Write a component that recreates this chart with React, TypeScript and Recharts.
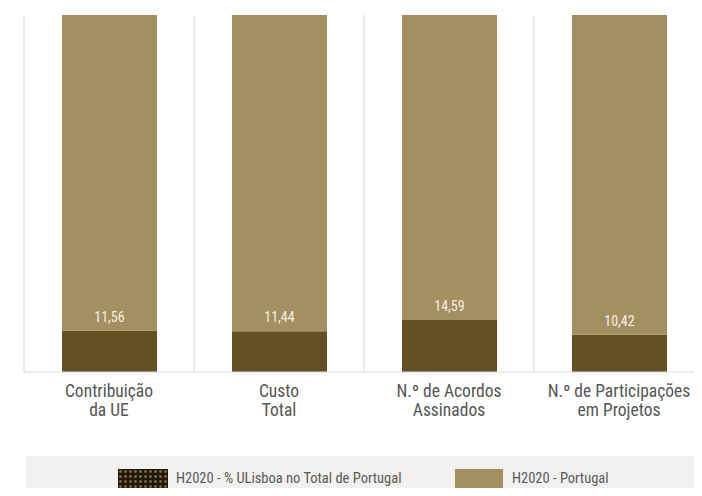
import { BarChart, Bar, XAxis, YAxis, CartesianGrid, Legend, LabelList } from 'recharts';

const categories = ['Contribuição|da UE', 'Custo|Total', 'N.º de Acordos|Assinados', 'N.º de Participações|em Projetos'];
const ulisboa = [11.56, 11.44, 14.59, 10.42];
const portugal = [88.44, 88.56, 85.41, 89.58];

const data = categories.map((c, i) => ({ name: c, ul: ulisboa[i], pt: portugal[i] }));

const FONT = '"Liberation Sans Narrow", "Arial Narrow", "Roboto Condensed", sans-serif';
const DARK = '#655026';
const TAN = '#a38f60';

const Tick = (props: any) => {
  const { x, y, payload } = props;
  const lines = String(payload.value).split('|');
  return (
    <text x={x} y={y} textAnchor="middle" fill="#555555" fontSize={17.5} fontFamily={FONT}>
      {lines.map((l, i) => (
        <tspan key={i} x={x} dy={i === 0 ? 17 : 19}>{l}</tspan>
      ))}
    </text>
  );
};

const LegendBox = () => (
  <div style={{ height: 40, background: '#f2f1ef', position: 'relative', fontFamily: FONT, fontSize: 14.5, color: '#595959' }}>
    <div style={{ position: 'absolute', left: 92, top: 13, width: 50, height: 21, backgroundColor: '#1e180c', backgroundImage: 'radial-gradient(circle, #7d6532 1.3px, transparent 1.5px)', backgroundSize: '5px 5px' }} />
    <span style={{ position: 'absolute', left: 150, top: 14 }}>H2020 - % ULisboa no Total de Portugal</span>
    <div style={{ position: 'absolute', left: 429, top: 13, width: 48, height: 21, background: TAN }} />
    <span style={{ position: 'absolute', left: 486, top: 14 }}>H2020 - Portugal</span>
  </div>
);

export default function App() {
  return (
    <div style={{ margin: -8, width: 702, height: 496, overflow: 'hidden' }}>
      <BarChart width={704} height={496} data={data} margin={{ top: 15, right: 0, left: 24, bottom: 24 }}>
        <CartesianGrid
          horizontal={false}
          stroke="#e3e3e3"
          strokeWidth={1.5}
          verticalCoordinatesGenerator={({ offset }: any) =>
            [0, 1, 2, 3, 4].map((i) => offset.left + (i * offset.width) / 4)
          }
        />
        <XAxis dataKey="name" height={60} tick={<Tick />} tickLine={false} axisLine={{ stroke: '#d9d9d9' }} interval={0} />
        <YAxis hide domain={[0, 100]} />
        <Legend verticalAlign="bottom" content={<LegendBox />} wrapperStyle={{ left: 26, bottom: 0, width: 676, height: 40 }} />
        <Bar dataKey="ul" stackId="a" fill={DARK} barSize={95} isAnimationActive={false}>
          <LabelList
            dataKey="ul"
            position="top"
            offset={9}
            fill="#f3efe4"
            fontSize={14}
            fontFamily={FONT}
            formatter={(v: any) => String(v.toFixed(2)).replace('.', ',')}
          />
        </Bar>
        <Bar dataKey="pt" stackId="a" fill={TAN} barSize={95} isAnimationActive={false} />
      </BarChart>
    </div>
  );
}
